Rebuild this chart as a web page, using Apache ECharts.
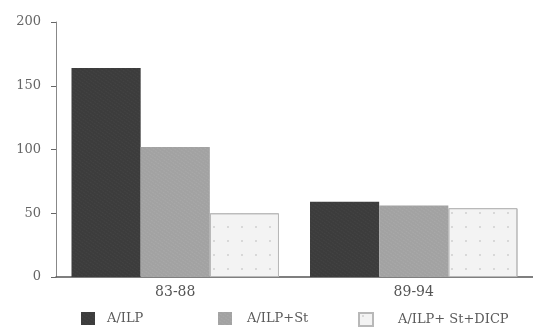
<!DOCTYPE html>
<html><head><meta charset="utf-8">
<script src="https://cdn.jsdelivr.net/npm/echarts@6/dist/echarts.min.js"></script>
<style>html,body{margin:0;padding:0;background:#fff}#c{width:533px;height:332px}</style>
</head><body><div id="c"></div>
<script>
var categories = ["83-88", "89-94"];
var seriesNames = ["A/ILP", "A/ILP+St", "A/ILP+ St+DICP"];
var valsILP = [164, 59];
var valsILPSt = [102, 56];
var valsILPStDICP = [50, 54];
var yTicks = [0, 50, 100, 150, 200];

var chart = echarts.init(document.getElementById('c'), null, {renderer: 'canvas'});
var font = '"DejaVu Serif", "Liberation Serif", serif';
var colors = ['#3c3c3c', '#a2a2a2', '#f3f3f3'];
var decals = [
  {symbol: 'rect', symbolSize: 0.4, color: 'rgba(255,255,255,0.18)', dashArrayX: [2, 1], dashArrayY: [1, 2], rotation: 0.6},
  {symbol: 'rect', symbolSize: 0.5, color: 'rgba(255,255,255,0.3)', dashArrayX: [2, 1], dashArrayY: [1, 2], rotation: 0.6},
  {symbol: 'circle', symbolSize: 0.35, color: 'rgba(150,150,150,0.35)', dashArrayX: [8, 6], dashArrayY: [6, 8], rotation: 0}
];
var datas = [valsILP, valsILPSt, valsILPStDICP];
var series = seriesNames.map(function (n, i) {
  return {
    name: n, type: 'bar', data: datas[i],
    barGap: '0%', barCategoryGap: '13%',
    itemStyle: {color: colors[i], borderColor: i === 2 ? '#b8b8b8' : null, borderWidth: i === 2 ? 1 : 0, decal: decals[i]},
    emphasis: {disabled: true}
  };
});
var legendLefts = [81, 218, 358];
var legendPads = [7, 10, 20];
var legends = seriesNames.map(function (n, i) {
  return {
    top: 312, left: legendLefts[i], itemWidth: 14, itemHeight: 13,
    icon: 'rect', padding: 0,
    textStyle: {fontFamily: font, fontSize: 13, color: '#5a5a5a', padding: [0, 0, 0, legendPads[i]]},
    data: [n]
  };
});
chart.setOption({
  animation: false,
  aria: {enabled: true, decal: {show: true}},
  grid: {left: 56, top: 22, width: 488, bottom: 55, containLabel: false},
  legend: legends,
  xAxis: {
    type: 'category', data: categories,
    axisLine: {lineStyle: {color: '#555', width: 1.5}},
    axisTick: {show: false},
    axisLabel: {fontFamily: font, fontSize: 14, color: '#555', margin: 8}
  },
  yAxis: {
    type: 'value', min: yTicks[0], max: yTicks[yTicks.length - 1], interval: 50,
    axisLine: {show: true, lineStyle: {color: '#888'}},
    axisTick: {show: true, length: 5, lineStyle: {color: '#666'}},
    splitLine: {show: false},
    axisLabel: {fontFamily: font, fontSize: 13, color: '#666', margin: 15}
  },
  series: series
});
</script></body></html>
